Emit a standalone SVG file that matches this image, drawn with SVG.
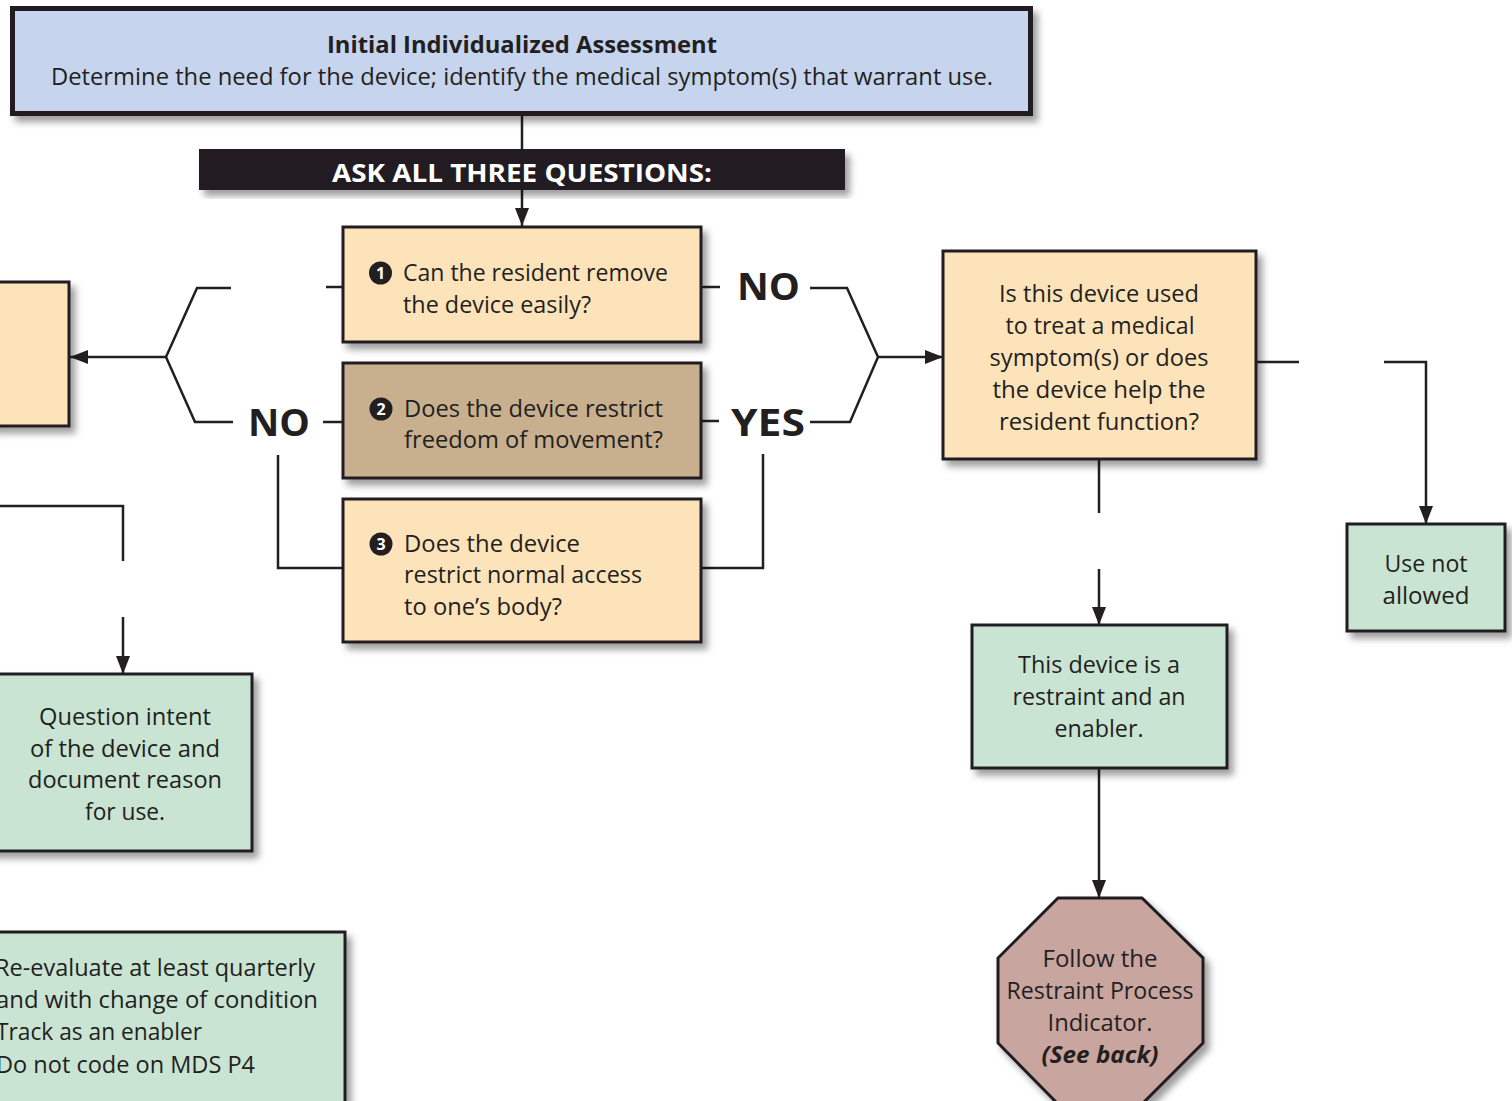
<svg xmlns="http://www.w3.org/2000/svg" width="1512" height="1101" viewBox="0 0 1512 1101">
<style>
.box{stroke:#231f20;stroke-width:3;filter:url(#sh)}
.peach{fill:#fde3b9}
.tan{fill:#c8b08f}
.green{fill:#c9e4d3}
.blue{fill:#c6d5ed}
.rose{fill:#c9a59f}
.t{font-family:"Open Sans","Noto Sans","Liberation Sans",sans-serif;font-size:23px;fill:#231f20}
.c{text-anchor:middle}
.b{font-weight:bold}
.big{font-family:"Open Sans","Liberation Sans",sans-serif;font-weight:bold;font-size:38px;fill:#231f20}
.dot{fill:#231f20}
.dig{font-family:"Open Sans","Liberation Sans",sans-serif;font-weight:bold;font-size:16px;fill:#ffffff;text-anchor:middle}
.ln{fill:none;stroke:#231f20;stroke-width:2.5}
.ar{marker-end:url(#ah)}
</style>
<defs>
<filter id="sh" x="-10%" y="-10%" width="130%" height="130%">
<feDropShadow dx="5" dy="6" stdDeviation="3.5" flood-color="#000" flood-opacity="0.38"/>
</filter>
<marker id="ah" markerUnits="userSpaceOnUse" markerWidth="18" markerHeight="14" viewBox="0 0 18 14" refX="18" refY="7" orient="auto">
<path d="M0,0 L18,7 L0,14 z" fill="#231f20"/>
</marker>
</defs>
<rect width="1512" height="1101" fill="#ffffff"/>

<g id="connectors">
<line class="ln" x1="522" y1="114" x2="522" y2="149"/>
<line class="ln ar" x1="522" y1="190" x2="522" y2="226"/>
<line class="ln" x1="326" y1="287" x2="343" y2="287"/>
<polyline class="ln" points="231,288 197,288 166,357 195,422 233,422"/>
<line class="ln" x1="323" y1="422" x2="343" y2="422"/>
<polyline class="ln" points="343,568 278,568 278,455"/>
<line class="ln ar" x1="166" y1="357" x2="70" y2="357"/>
<line class="ln" x1="701" y1="287" x2="720" y2="287"/>
<polyline class="ln" points="810,288 847,288 878,357 850,422 810,422"/>
<line class="ln" x1="701" y1="421" x2="719" y2="421"/>
<polyline class="ln" points="701,568 763,568 763,454"/>
<line class="ln ar" x1="878" y1="357" x2="943" y2="357"/>
<line class="ln" x1="1256" y1="362" x2="1299" y2="362"/>
<polyline class="ln ar" points="1384,362 1426,362 1426,524"/>
<line class="ln" x1="1099" y1="460" x2="1099" y2="513"/>
<line class="ln ar" x1="1099" y1="569" x2="1099" y2="625"/>
<line class="ln ar" x1="1099" y1="768" x2="1099" y2="898"/>
<polyline class="ln" points="0,506 123,506 123,561"/>
<line class="ln ar" x1="123" y1="617" x2="123" y2="674"/>
</g>

<g id="labels">
<text class="big" x="737" y="300" textLength="63" lengthAdjust="spacingAndGlyphs">NO</text>
<text class="big" x="731" y="436" textLength="74" lengthAdjust="spacingAndGlyphs">YES</text>
<text class="big" x="248" y="436" textLength="62" lengthAdjust="spacingAndGlyphs">NO</text>
</g>

<g id="initial-assessment">
<rect class="box blue" x="12.5" y="8.5" width="1018" height="105" style="stroke-width:5"/>
<text class="t c b" x="522" y="53" textLength="390" lengthAdjust="spacingAndGlyphs">Initial Individualized Assessment</text>
<text class="t c" x="522" y="85" textLength="942" lengthAdjust="spacingAndGlyphs">Determine the need for the device; identify the medical symptom(s) that warrant use.</text>
</g>

<g id="ask-bar">
<rect x="199" y="149" width="646" height="41" fill="#231f20" filter="url(#sh)"/>
<text class="t c b" x="522" y="182" style="fill:#ffffff;font-size:25px" textLength="380" lengthAdjust="spacingAndGlyphs">ASK ALL THREE QUESTIONS:</text>
</g>

<g id="q1">
<rect class="box peach" x="343" y="227" width="358" height="115"/>
<circle class="dot" cx="380.5" cy="273" r="11.5"/>
<text class="dig" x="380.5" y="279">1</text>
<text class="t" x="403" y="281" textLength="265" lengthAdjust="spacingAndGlyphs">Can the resident remove</text>
<text class="t" x="403" y="313" textLength="188" lengthAdjust="spacingAndGlyphs">the device easily?</text>
</g>

<g id="q2">
<rect class="box tan" x="343" y="363" width="358" height="115"/>
<circle class="dot" cx="381" cy="409" r="11.5"/>
<text class="dig" x="381" y="415">2</text>
<text class="t" x="404" y="417" textLength="259" lengthAdjust="spacingAndGlyphs">Does the device restrict</text>
<text class="t" x="404" y="448" textLength="259" lengthAdjust="spacingAndGlyphs">freedom of movement?</text>
</g>

<g id="q3">
<rect class="box peach" x="343" y="499" width="358" height="143"/>
<circle class="dot" cx="381" cy="544" r="11.5"/>
<text class="dig" x="381" y="550">3</text>
<text class="t" x="404" y="552" textLength="176" lengthAdjust="spacingAndGlyphs">Does the device</text>
<text class="t" x="404" y="583" textLength="238" lengthAdjust="spacingAndGlyphs">restrict normal access</text>
<text class="t" x="404" y="615" textLength="158" lengthAdjust="spacingAndGlyphs">to one’s body?</text>
</g>

<g id="left-box">
<rect class="box peach" x="-10" y="282" width="79" height="144"/>
</g>

<g id="q4">
<rect class="box peach" x="943" y="251" width="313" height="208"/>
<text class="t c" x="1099" y="302" textLength="200" lengthAdjust="spacingAndGlyphs">Is this device used</text>
<text class="t c" x="1100" y="334" textLength="189" lengthAdjust="spacingAndGlyphs">to treat a medical</text>
<text class="t c" x="1099" y="366" textLength="219" lengthAdjust="spacingAndGlyphs">symptom(s) or does</text>
<text class="t c" x="1099" y="398" textLength="213" lengthAdjust="spacingAndGlyphs">the device help the</text>
<text class="t c" x="1099" y="430" textLength="200" lengthAdjust="spacingAndGlyphs">resident function?</text>
</g>

<g id="use-not-allowed">
<rect class="box green" x="1347" y="524" width="158" height="107"/>
<text class="t c" x="1426" y="572" textLength="83" lengthAdjust="spacingAndGlyphs">Use not</text>
<text class="t c" x="1426" y="604" textLength="87" lengthAdjust="spacingAndGlyphs">allowed</text>
</g>

<g id="restraint-enabler">
<rect class="box green" x="972" y="625" width="255" height="143"/>
<text class="t c" x="1099" y="673" textLength="162" lengthAdjust="spacingAndGlyphs">This device is a</text>
<text class="t c" x="1099" y="705" textLength="173" lengthAdjust="spacingAndGlyphs">restraint and an</text>
<text class="t c" x="1099" y="737" textLength="89" lengthAdjust="spacingAndGlyphs">enabler.</text>
</g>

<g id="follow-indicator">
<polygon class="box rose" points="1058,898 1142,898 1203,958 1203,1043 1142,1104 1058,1104 998,1043 998,958"/>
<text class="t c" x="1100" y="967" textLength="115" lengthAdjust="spacingAndGlyphs">Follow the</text>
<text class="t c" x="1100" y="999" textLength="187" lengthAdjust="spacingAndGlyphs">Restraint Process</text>
<text class="t c" x="1100" y="1031" textLength="105" lengthAdjust="spacingAndGlyphs">Indicator.</text>
<text class="t c b" x="1100" y="1063" style="font-style:italic" textLength="117" lengthAdjust="spacingAndGlyphs">(See back)</text>
</g>

<g id="question-intent">
<rect class="box green" x="-10" y="674" width="262" height="177"/>
<text class="t c" x="125" y="725" textLength="172" lengthAdjust="spacingAndGlyphs">Question intent</text>
<text class="t c" x="125" y="757" textLength="190" lengthAdjust="spacingAndGlyphs">of the device and</text>
<text class="t c" x="125" y="788" textLength="194" lengthAdjust="spacingAndGlyphs">document reason</text>
<text class="t c" x="125" y="820" textLength="80" lengthAdjust="spacingAndGlyphs">for use.</text>
</g>

<g id="re-evaluate">
<rect class="box green" x="-10" y="932" width="355" height="185"/>
<text class="t" x="-5" y="976" textLength="320" lengthAdjust="spacingAndGlyphs">Re-evaluate at least quarterly</text>
<text class="t" x="-4" y="1008" textLength="322" lengthAdjust="spacingAndGlyphs">and with change of condition</text>
<text class="t" x="-4" y="1040" textLength="206" lengthAdjust="spacingAndGlyphs">Track as an enabler</text>
<text class="t" x="-4" y="1073" textLength="259" lengthAdjust="spacingAndGlyphs">Do not code on MDS P4</text>
</g>
</svg>
